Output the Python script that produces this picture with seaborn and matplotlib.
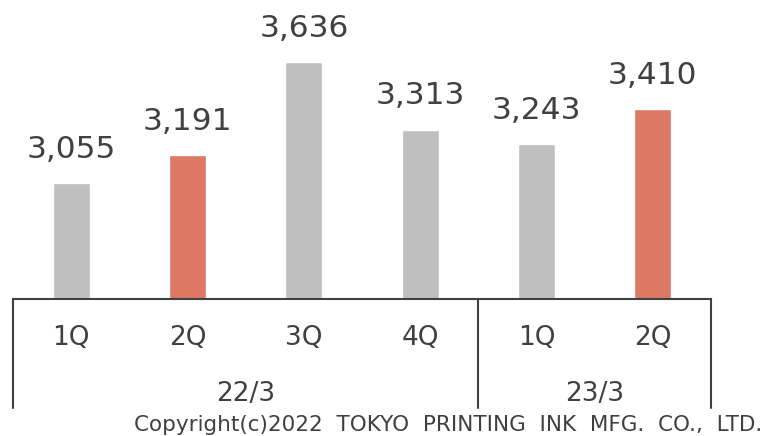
import matplotlib
matplotlib.use("Agg")
import matplotlib.pyplot as plt
import seaborn as sns
import pandas as pd

quarters = ["1Q", "2Q", "3Q", "4Q", "1Q", "2Q"]
years = ["22/3", "23/3"]
year_sizes = [4, 2]
values = [3055, 3191, 3636, 3313, 3243, 3410]
colors = ["#BFBFBF", "#DD7865", "#BFBFBF", "#BFBFBF", "#BFBFBF", "#DD7865"]

sns.set_theme(style="white")
plt.rcParams["font.family"] = ["DejaVu Sans"]
txt = "#404040"

keys = [f"k{i}" for i in range(len(values))]
df = pd.DataFrame({"key": keys, "value": values})

fig = plt.figure(figsize=(7.62, 4.36), dpi=100)
ax = fig.add_axes([13 / 762, 1 - 299 / 436, (711 - 13) / 762, 299 / 436])
sns.barplot(data=df, x="key", y="value", hue="key", palette=colors,
            width=0.32, legend=False, ax=ax, saturation=1)
ax.set_xlim(-0.5, len(values) - 0.5)
ax.set_ylim(2500, 3935)
for c in ax.containers:
    ax.bar_label(c, labels=[f"{int(round(v)):,}" for v in c.datavalues],
                 padding=14, fontsize=22.5, color=txt)

for s in ["left", "right", "top"]:
    ax.spines[s].set_visible(False)
ax.spines["bottom"].set_color(txt)
ax.spines["bottom"].set_linewidth(1.5)
ax.set_xticks([])
ax.set_yticks([])
ax.set_xlabel("")
ax.set_ylabel("")

# category axis: quarters, years, separators
trans = ax.get_xaxis_transform()
ylen = (408 - 299) / 299
for i, q in enumerate(quarters):
    ax.text(i, -(338 - 299) / 299, q, ha="center", va="center",
            fontsize=19, color=txt, transform=trans)
start = 0
bounds = [-0.5]
for y, n in zip(years, year_sizes):
    mid = start + (n - 1) / 2
    ax.text(mid, -(394 - 299) / 299, y, ha="center", va="center",
            fontsize=19, color=txt, transform=trans)
    start += n
    bounds.append(start - 0.5)
for b in bounds:
    ax.plot([b, b], [0, -ylen], color=txt, lw=1.5, transform=trans,
            clip_on=False)

fig.text(762 / 762, 1 - 425 / 436,
         "Copyright(c)2022  TOKYO  PRINTING  INK  MFG.  CO.,  LTD.",
         ha="right", va="center", fontsize=15.5, color=txt)

fig.savefig("out.png", dpi=100)
